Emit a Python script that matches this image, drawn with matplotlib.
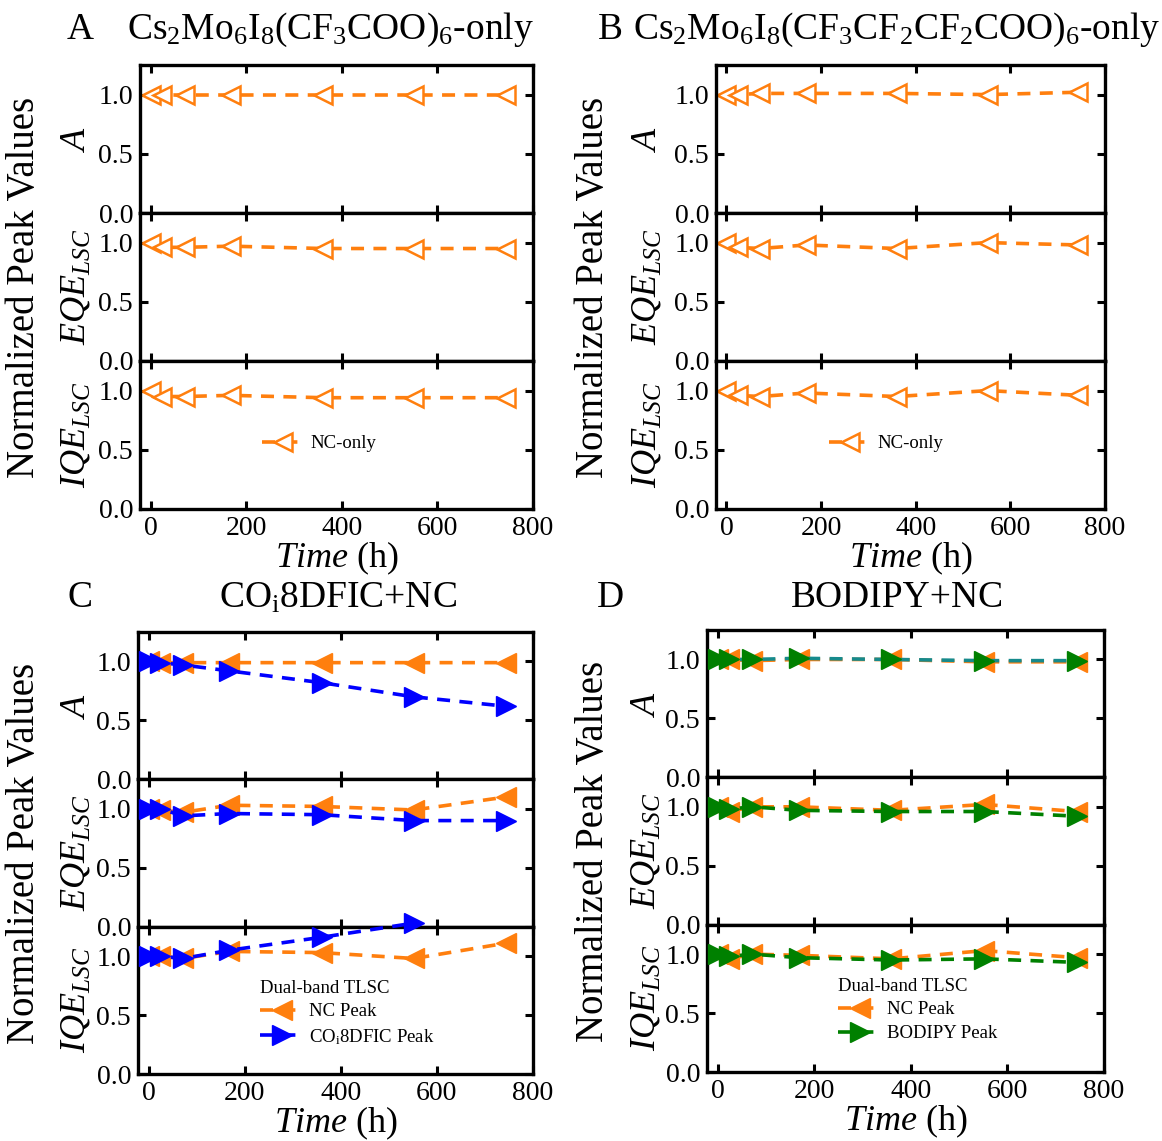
import matplotlib
matplotlib.use("Agg")
import matplotlib.pyplot as plt
import numpy as np

plt.rcParams['font.family'] = ['Liberation Serif', 'DejaVu Serif']
plt.rcParams['mathtext.fontset'] = 'custom'
plt.rcParams['mathtext.rm'] = 'Liberation Serif'
plt.rcParams['mathtext.it'] = 'Liberation Serif:italic'
plt.rcParams['mathtext.bf'] = 'Liberation Serif:bold'

# ---------------- data ----------------
time_h = [0, 24, 72, 168, 360, 552, 744]

# Panel A: Cs2Mo6I8(CF3COO)6-only
a_A = [1.00, 1.00, 1.00, 1.00, 1.00, 1.00, 1.00]
a_EQE = [1.00, 0.96, 0.96, 0.97, 0.95, 0.95, 0.95]
a_IQE = [1.00, 0.95, 0.95, 0.96, 0.94, 0.94, 0.94]

# Panel B: Cs2Mo6I8(CF3CF2CF2COO)6-only
b_A = [1.00, 1.00, 1.01, 1.01, 1.01, 1.00, 1.02]
b_EQE = [1.00, 0.96, 0.95, 0.98, 0.95, 1.00, 0.98]
b_IQE = [1.00, 0.96, 0.95, 0.98, 0.95, 1.00, 0.96]

# Panel C: COi8DFIC+NC
c_A_nc = [1.00, 0.99, 0.99, 0.99, 0.99, 0.99, 0.99]
c_A_dye = [1.00, 0.99, 0.97, 0.92, 0.82, 0.70, 0.62]
c_EQE_nc = [1.00, 0.99, 0.97, 1.03, 1.02, 0.99, 1.10]
c_EQE_dye = [1.00, 1.00, 0.94, 0.96, 0.95, 0.90, 0.90]
c_IQE_nc = [1.00, 1.00, 0.98, 1.04, 1.03, 0.98, 1.11]
c_IQE_dye = [1.00, 1.00, 0.98, 1.05, 1.16, 1.28, np.nan]

# Panel D: BODIPY+NC
d_A_nc = [1.00, 1.00, 0.99, 1.00, 1.00, 0.98, 0.98]
d_A_dye = [1.00, 1.00, 1.00, 1.01, 1.00, 0.99, 0.99]
d_EQE_nc = [1.00, 0.96, 1.00, 1.00, 0.97, 1.02, 0.96]
d_EQE_dye = [1.00, 0.98, 1.00, 0.97, 0.96, 0.96, 0.92]
d_IQE_nc = [1.00, 0.96, 1.00, 0.99, 0.96, 1.03, 0.97]
d_IQE_dye = [1.00, 0.98, 1.00, 0.97, 0.95, 0.96, 0.93]

row_labels = [r'$A$', r'$EQE_{LSC}$', r'$IQE_{LSC}$']
xticks = [0, 200, 400, 600, 800]
yticks = [0.0, 0.5, 1.0]

ORANGE = '#ff7f0e'
BLUE = '#0000ff'
GREEN = '#008000'
TEAL = '#168a8c'

W, H = 1162, 1141
fig = plt.figure(figsize=(W / 100, H / 100), dpi=100)

TICK_FS = 20
LAB_FS = 26
XLAB_FS = 26
OUT_FS = 28
TITLE_FS = 27
LEG_FS = 13.5
DASH = (3.6, 2.6)
LW = 2.6


def make_panel(left, right, top, bottom):
    axes = []
    h = (bottom - top) / 3.0
    for i in range(3):
        t = top + i * h
        b = t + h
        ax = fig.add_axes([left / W, 1 - b / H, (right - left) / W, h / H])
        ax.set_xlim(-22, 800)
        ax.set_ylim(0, 1.25)
        ax.set_xticks(xticks)
        ax.set_yticks(yticks)
        ax.set_yticklabels([f'{v:.1f}' for v in yticks])
        ax.tick_params(direction='in', length=6, width=2.2, top=True, right=True,
                       labelsize=TICK_FS, pad=5)
        if i < 2:
            ax.tick_params(labelbottom=False)
        for s in ax.spines.values():
            s.set_linewidth(2.4)
        ax.set_ylabel(row_labels[i], fontsize=LAB_FS)
        axes.append(ax)
    axes[-1].set_xlabel(r'$Time$ (h)', fontsize=XLAB_FS, labelpad=-1)
    return axes


def style_labels(axes, lx):
    for ax in axes:
        ax.yaxis.set_label_coords(lx, 0.5)


def plot_hollow(ax, y, label=None):
    ax.plot(time_h, y, linestyle='--', dashes=DASH, color=ORANGE, lw=LW,
            marker='<', markersize=13, markerfacecolor='white',
            markeredgecolor=ORANGE, markeredgewidth=1.8, label=label)


def plot_filled(ax, y, color, marker, label=None, linecolor=None, clip=True, z=2):
    ax.plot(time_h, y, linestyle='--', dashes=DASH, color=linecolor or color, lw=LW,
            marker=marker, markersize=14, markerfacecolor=color,
            markeredgecolor=color, label=label, clip_on=clip, zorder=z)


leg_kw = dict(frameon=False, fontsize=LEG_FS, handlelength=2.3, handletextpad=0.3,
              borderpad=0, borderaxespad=0)

# ---- Panel A ----
axA = make_panel(140, 533, 65, 509)
style_labels(axA, -0.12)
for ax, y in zip(axA, [a_A, a_EQE, a_IQE]):
    plot_hollow(ax, y, 'NC-only')
axA[2].legend(loc='center left', bbox_to_anchor=(0.31, 0.44), **leg_kw)
fig.text(80 / W, 1 - 30 / H, 'A', fontsize=TITLE_FS, ha='center', va='center')
fig.text(330 / W, 1 - 30 / H, r'Cs$_2$Mo$_6$I$_8$(CF$_3$COO)$_6$-only',
         fontsize=TITLE_FS, ha='center', va='center')
fig.text(25 / W, 1 - 287 / H, 'Normalized Peak Values', fontsize=OUT_FS,
         rotation=90, ha='center', va='center')

# ---- Panel B ----
axB = make_panel(716, 1105, 65, 509)
style_labels(axB, -0.134)
for ax, y in zip(axB, [b_A, b_EQE, b_IQE]):
    plot_hollow(ax, y, 'NC-only')
axB[2].legend(loc='center left', bbox_to_anchor=(0.29, 0.44), **leg_kw)
fig.text(610 / W, 1 - 30 / H, 'B', fontsize=TITLE_FS, ha='center', va='center')
fig.text(897 / W, 1 - 30 / H, r'Cs$_2$Mo$_6$I$_8$(CF$_3$CF$_2$CF$_2$COO)$_6$-only',
         fontsize=TITLE_FS, ha='center', va='center')
fig.text(594 / W, 1 - 287 / H, 'Normalized Peak Values', fontsize=OUT_FS,
         rotation=90, ha='center', va='center')

# ---- Panel C ----
axC = make_panel(138, 533, 632, 1074)
style_labels(axC, -0.115)
for ax, yn, yd in zip(axC, [c_A_nc, c_EQE_nc, c_IQE_nc], [c_A_dye, c_EQE_dye, c_IQE_dye]):
    plot_filled(ax, yn, ORANGE, '<', 'NC Peak')
    plot_filled(ax, yd, BLUE, '>', r'CO$_\mathrm{i}$8DFIC Peak',
                clip=(ax is not axC[2]), z=3)
axC[2].legend(loc='upper left', bbox_to_anchor=(0.31, 0.64), labelspacing=0.35,
              title='Dual-band TLSC', title_fontsize=LEG_FS, alignment='left', **leg_kw)
fig.text(80 / W, 1 - 598 / H, 'C', fontsize=TITLE_FS, ha='center', va='center')
fig.text(338 / W, 1 - 598 / H, r'CO$_\mathrm{i}$8DFIC+NC',
         fontsize=TITLE_FS, ha='center', va='center')
fig.text(25 / W, 1 - 853 / H, 'Normalized Peak Values', fontsize=OUT_FS,
         rotation=90, ha='center', va='center')

# ---- Panel D ----
axD = make_panel(707, 1104, 630, 1072)
style_labels(axD, -0.112)
for i, (ax, yn, yd) in enumerate(zip(axD, [d_A_nc, d_EQE_nc, d_IQE_nc],
                                     [d_A_dye, d_EQE_dye, d_IQE_dye])):
    plot_filled(ax, yn, ORANGE, '<', 'NC Peak')
    plot_filled(ax, yd, GREEN, '>', 'BODIPY Peak',
                linecolor=(TEAL if i == 0 else None), z=3)
axD[2].legend(loc='upper left', bbox_to_anchor=(0.33, 0.64), labelspacing=0.35,
              title='Dual-band TLSC', title_fontsize=LEG_FS, alignment='left', **leg_kw)
fig.text(610 / W, 1 - 598 / H, 'D', fontsize=TITLE_FS, ha='center', va='center')
fig.text(897 / W, 1 - 598 / H, 'BODIPY+NC',
         fontsize=TITLE_FS, ha='center', va='center')
fig.text(594 / W, 1 - 851 / H, 'Normalized Peak Values', fontsize=OUT_FS,
         rotation=90, ha='center', va='center')

fig.savefig('out.png', dpi=100)
